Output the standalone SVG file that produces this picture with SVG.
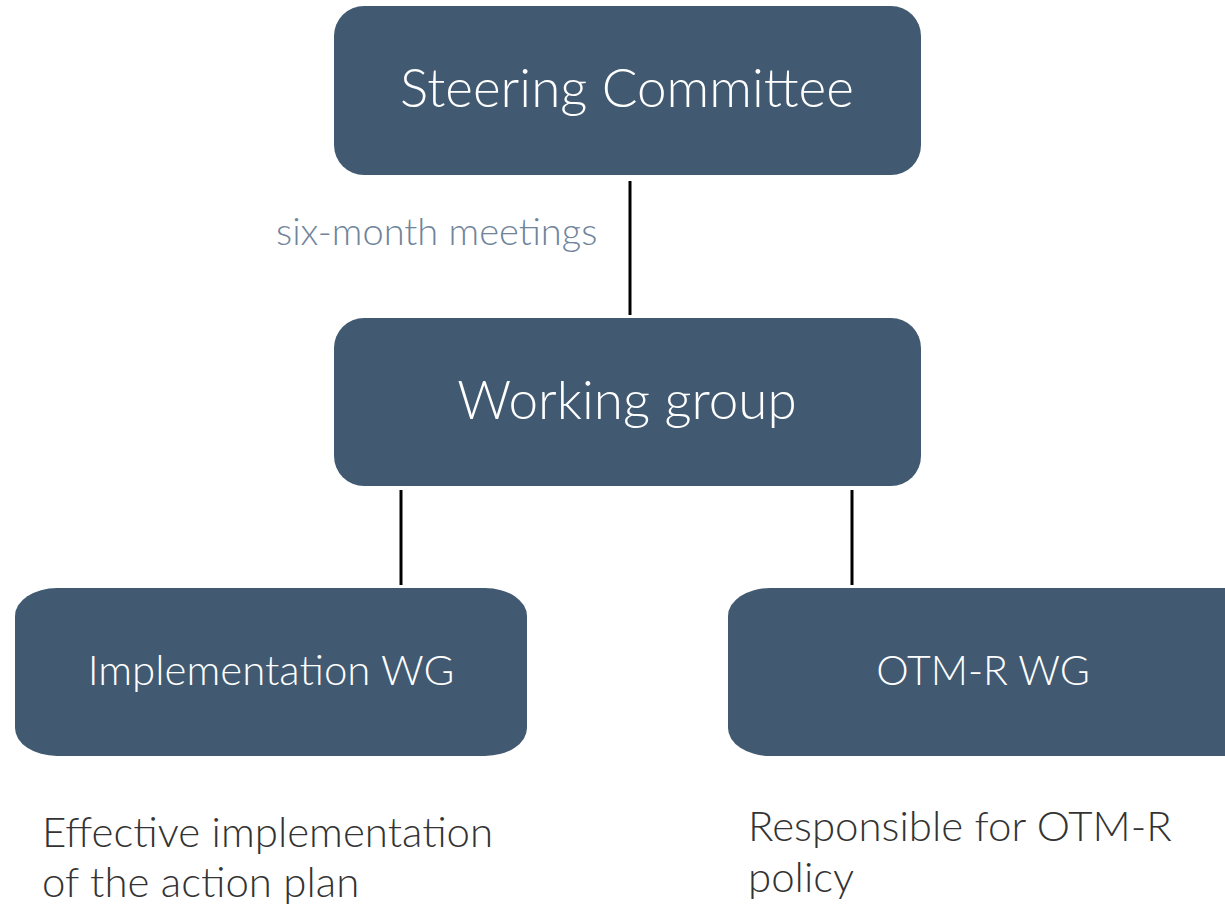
<svg xmlns="http://www.w3.org/2000/svg" width="1225" height="907" viewBox="0 0 1225 907">
<style>
.box{fill:#415a72}
.lbl{font-family:Lato,"Liberation Sans",sans-serif;font-weight:300;fill:#ffffff;text-anchor:middle}
.desc{font-family:Lato,"Liberation Sans",sans-serif;font-weight:300;fill:#333333;font-size:42px}
.note{font-family:Lato,"Liberation Sans",sans-serif;font-weight:300;fill:#6f849b;font-size:38px}
.conn{stroke:#000000;stroke-width:3;fill:none}
</style>
<rect width="1225" height="907" fill="#ffffff"/>
<g id="connectors">
<line class="conn" x1="630" y1="181" x2="630" y2="315"/>
<line class="conn" x1="401" y1="490" x2="401" y2="585"/>
<line class="conn" x1="852" y1="490" x2="852" y2="585"/>
<text class="note" x="276" y="245">six-month meetings</text>
</g>
<g id="steering">
<rect class="box" x="334" y="6" width="587" height="169" rx="30" ry="30"/>
<text class="lbl" x="627" y="107" font-size="53">Steering Committee</text>
</g>
<g id="working">
<rect class="box" x="334" y="318" width="587" height="168" rx="30" ry="30"/>
<text class="lbl" x="627" y="419" font-size="53">Working group</text>
</g>
<g id="impl">
<rect class="box" x="15" y="588" width="512" height="168" rx="42" ry="28"/>
<text class="lbl" x="271" y="685" font-size="42">Implementation WG</text>
</g>
<g id="otmr">
<rect class="box" x="728" y="588" width="540" height="168" rx="42" ry="28"/>
<text class="lbl" x="983" y="685" font-size="41">OTM-R WG</text>
</g>
<g id="desc-impl">
<text class="desc" x="42" y="847">Effective implementation</text>
<text class="desc" x="42" y="897">of the action plan</text>
</g>
<g id="desc-otmr">
<text class="desc" x="748" y="841">Responsible for OTM-R</text>
<text class="desc" x="748" y="892">policy</text>
</g>
</svg>
